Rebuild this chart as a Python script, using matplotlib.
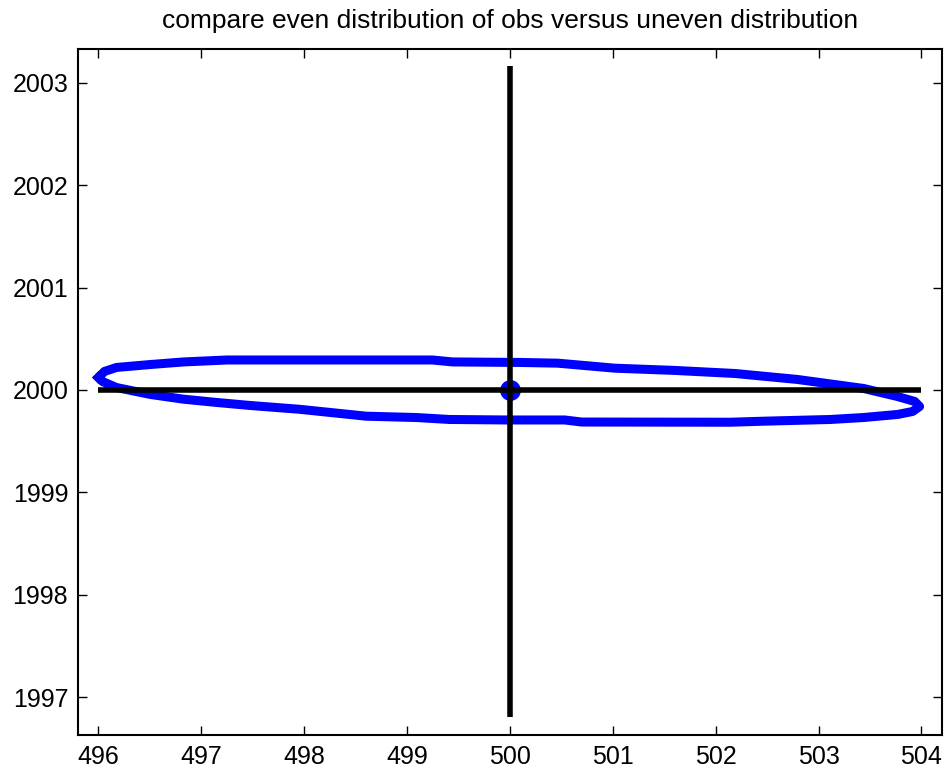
import numpy as np
import matplotlib
matplotlib.use('Agg')
import matplotlib.pyplot as plt

# Ellipse outline (x, y), going round clockwise from the left tip
ell_x = [496.000, 496.058, 496.175, 496.507, 496.828, 497.248, 497.949, 499.246,
         499.441, 500.094, 500.464, 501.019, 501.604, 502.189, 502.793, 503.437,
         503.768, 503.934, 503.982, 503.914, 503.768, 503.437, 503.115, 502.462,
         502.140, 500.698, 500.532, 499.967, 499.411, 499.090, 498.602, 497.949,
         497.481, 497.150, 496.828, 496.507, 496.175, 496.039, 496.000]
ell_y = [2000.122, 2000.181, 2000.220, 2000.249, 2000.274, 2000.293, 2000.293, 2000.293,
         2000.274, 2000.269, 2000.262, 2000.213, 2000.191, 2000.161, 2000.103, 2000.015,
         1999.936, 1999.888, 1999.839, 1999.790, 1999.761, 1999.731, 1999.712, 1999.695,
         1999.685, 1999.687, 1999.707, 1999.707, 1999.712, 1999.731, 1999.744, 1999.812,
         1999.848, 1999.878, 1999.910, 1999.956, 2000.024, 2000.083, 2000.122]

# center point and the cross through it
center = (500.0, 2000.0)
hline_x = [496.0, 504.0]
hline_y = [2000.0, 2000.0]
vline_x = [500.0, 500.0]
vline_y = [1996.81, 2003.16]

xticks = [496, 497, 498, 499, 500, 501, 502, 503, 504]
yticks = [1997, 1998, 1999, 2000, 2001, 2002, 2003]

plt.rcParams['font.family'] = 'Liberation Sans'
plt.rcParams['font.size'] = 18

fig = plt.figure(figsize=(9.5, 7.79), dpi=100)
ax = fig.add_axes([0.082, 0.0565, 0.9096, 0.8805])

ax.plot(ell_x, ell_y, color='#0000ff', linewidth=6.5, solid_joinstyle='round', zorder=2)
ax.plot(hline_x, hline_y, color='black', linewidth=4, solid_capstyle='butt', zorder=3)
ax.plot(vline_x, vline_y, color='black', linewidth=4, solid_capstyle='butt', zorder=3)
ax.plot(center[0], center[1], marker='o', color='#0000ff', markersize=9, markeredgewidth=6, zorder=2.5)

ax.set_xlim(495.8, 504.2)
ax.set_ylim(1996.63, 2003.33)
ax.set_xticks(xticks)
ax.set_yticks(yticks)
ax.tick_params(direction='in', length=6.5, width=1, top=True, right=True, pad=7, labelsize=18)
for sp in ax.spines.values():
    sp.set_linewidth(1.5)

ax.set_title('compare even distribution of obs versus uneven distribution', fontsize=19, pad=15)

plt.savefig('out.png', dpi=100)
